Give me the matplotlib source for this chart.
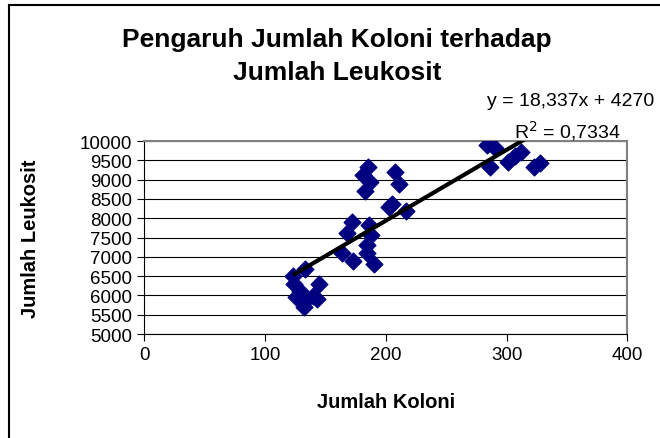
import matplotlib
matplotlib.use("Agg")
import matplotlib.pyplot as plt
import numpy as np

plt.rcParams['font.family'] = ['Liberation Sans', 'DejaVu Sans']

# data
koloni = [124, 123, 133, 145, 129, 126, 133, 132, 140, 143,
          172, 168, 164, 173, 186, 188, 184, 184, 190,
          185, 181, 187, 183, 208, 211, 205, 203, 217,
          284, 290, 286, 301, 307, 312, 323, 328]
leukosit = [6300, 6500, 6680, 6300, 6110, 5960, 5850, 5700, 5980, 5900,
            7900, 7620, 7100, 6890, 7820, 7560, 7310, 7110, 6810,
            9330, 9120, 8930, 8700, 9200, 8880, 8370, 8300, 8190,
            9900, 9820, 9320, 9460, 9600, 9720, 9330, 9420]
slope = 18.337
intercept = 4270
r2 = "0,7334"

fig = plt.figure(figsize=(6.6, 4.39), dpi=100)
ax = fig.add_axes([0.2186, 0.2369, 0.732, 0.4396])

ax.set_xlim(0, 400)
ax.set_ylim(5000, 10000)
ax.set_xticks([0, 100, 200, 300, 400])
ax.set_yticks(range(5000, 10001, 500))
ax.grid(axis='y', color='black', linewidth=0.8)
ax.set_axisbelow(True)

ax.scatter(koloni, leukosit, marker='D', s=72, color='#000080', zorder=3)

xs = np.array([min(koloni), max(koloni)])
ax.plot(xs, slope * xs + intercept, color='black', linewidth=3, zorder=4,
        solid_capstyle='butt')

for s in ['top', 'right']:
    ax.spines[s].set_color('#808080')
    ax.spines[s].set_linewidth(1.5)
for s in ['left', 'bottom']:
    ax.spines[s].set_color('black')
ax.tick_params(labelsize=13.5, direction='out', length=5, color='black')

ax.set_xlabel('Jumlah Koloni', fontsize=14.5, fontweight='bold')
ax.xaxis.set_label_coords(0.5, -0.30)
ax.set_ylabel('Jumlah Leukosit', fontsize=14.5, fontweight='bold')
ax.yaxis.set_label_coords(-0.215, 0.5)

fig.text(0.511, 1 - 40 / 439, 'Pengaruh Jumlah Koloni terhadap', ha='center', va='center',
         fontsize=19, fontweight='bold')
fig.text(0.511, 1 - 73 / 439, 'Jumlah Leukosit', ha='center', va='center',
         fontsize=19, fontweight='bold')

fig.text(571 / 660, 1 - 102 / 439, 'y = 18,337x + 4270', ha='center', va='center',
         fontsize=14)
fig.text(567 / 660, 1 - 131 / 439, 'R$^2$ = ' + r2, ha='center', va='center',
         fontsize=14)

# outer frame (only left and top visible in the original crop)
fig.add_artist(plt.Line2D([9 / 660, 9 / 660], [0, 1 - 6 / 439], color='black',
                          linewidth=1.5, transform=fig.transFigure))
fig.add_artist(plt.Line2D([9 / 660, 1], [1 - 6 / 439, 1 - 6 / 439], color='black',
                          linewidth=1.5, transform=fig.transFigure))

fig.savefig('out.png', dpi=100)
